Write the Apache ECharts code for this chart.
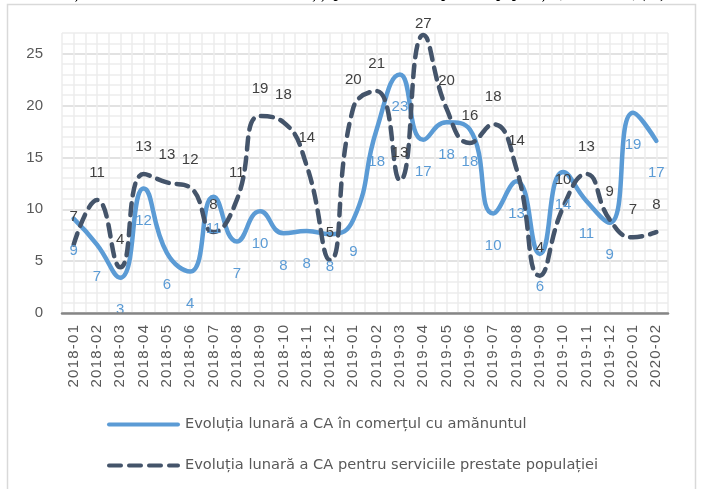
<!DOCTYPE html>
<html>
<head>
<meta charset="utf-8">
<script src="https://cdn.jsdelivr.net/npm/echarts@6/dist/echarts.min.js"></script>
<style>
  html, body { margin: 0; padding: 0; background: #fff; }
  #chart { width: 701px; height: 489px; }
</style>
</head>
<body>
<div id="chart"></div>
<script>
// categories (months)
const months = ['2018-01', '2018-02', '2018-03', '2018-04', '2018-05', '2018-06', '2018-07', '2018-08',
  '2018-09', '2018-10', '2018-11', '2018-12', '2019-01', '2019-02', '2019-03', '2019-04', '2019-05',
  '2019-06', '2019-07', '2019-08', '2019-09', '2019-10', '2019-11', '2019-12', '2020-01', '2020-02'];

// retail trade turnover, monthly change
const retail = [9.1, 6.6, 3.4, 12.0, 5.8, 4.0, 11.2, 6.9, 9.8, 7.7, 7.9, 7.6, 9.0,
  17.7, 23.0, 16.7, 18.4, 17.7, 9.6, 12.7, 5.7, 13.6, 10.8, 8.7, 19.3, 16.6];

// services for the population, monthly change
const services = [6.6, 10.9, 4.4, 13.4, 12.6, 12.1, 7.8, 10.9, 19.0, 18.4, 14.2, 5.1, 19.8,
  21.4, 12.8, 26.8, 19.7, 16.4, 18.2, 13.9, 3.6, 10.2, 13.4, 9.0, 7.3, 7.8];

const retailName = 'Evoluția lunară a CA în comerțul cu amănuntul';
const servicesName = 'Evoluția lunară a CA pentru serviciile prestate populației';
const titleText = 'Evoluția lunară a cifrei de afaceri în comerț și pentru serviciile prestate populației, 2018-2020, (%)';

const chart = echarts.init(document.getElementById('chart'));

// the 27 label sits against the top of the plot, keep it close
const servicesData = services.map(function (v) {
  return v > 26 ? { value: v, label: { distance: 3 } } : v;
});

const hidden = 'rgba(0,0,0,0)';

const option = {
  animation: false,
  textStyle: { fontFamily: 'Liberation Sans' },
  title: {
    text: titleText,
    left: 'center',
    top: -18,
    textStyle: { fontFamily: 'Liberation Serif', fontWeight: 'bold', fontSize: 15, color: '#000' }
  },
  graphic: [{
    type: 'rect',
    silent: true,
    z: -10,
    shape: { x: 7.5, y: 4.5, width: 688, height: 500 },
    style: { fill: 'none', stroke: '#d9d9d9', lineWidth: 1.5 }
  }],
  legend: {
    orient: 'vertical',
    left: 102,
    top: 412,
    itemWidth: 69,
    itemHeight: 14,
    itemGap: 26,
    lineStyle: { width: 4 },
    itemStyle: { color: hidden, borderWidth: 0 },
    textStyle: { fontFamily: 'DejaVu Sans', fontSize: 14.6, color: '#595959', padding: [0, 0, 0, 2] },
    data: [retailName, servicesName]
  },
  grid: { left: 62, right: 33, top: 33, bottom: 176 },
  xAxis: [
    {
      type: 'category',
      data: months,
      boundaryGap: true,
      z: 5,
      axisLine: { lineStyle: { color: '#868686', width: 2.5 } },
      axisTick: { show: false },
      axisLabel: {
        rotate: 90,
        interval: 0,
        margin: 12,
        fontSize: 15,
        color: '#595959',
        formatter: function (v) { return v.split('').join('\u200a'); }
      },
      splitLine: { show: false }
    },
    {
      // half-category vertical grid
      type: 'value',
      min: 0,
      max: months.length * 2,
      interval: 1,
      position: 'top',
      axisLine: { show: false },
      axisTick: { show: false },
      axisLabel: { show: false },
      splitLine: { show: true, lineStyle: { color: '#ededed', width: 1.5 } }
    }
  ],
  yAxis: {
    type: 'value',
    min: 0,
    max: 27,
    interval: 1,
    axisLine: { show: false },
    axisTick: { show: false },
    axisLabel: {
      margin: 19,
      fontSize: 15,
      color: '#595959',
      formatter: function (v) { return v % 5 === 0 ? v : ''; }
    },
    splitLine: {
      lineStyle: { color: ['#d9d9d9', '#ededed', '#ededed', '#ededed', '#ededed'], width: 1.5 }
    }
  },
  series: [
    {
      name: retailName,
      type: 'line',
      xAxisIndex: 0,
      data: retail,
      smooth: 0.5,
      symbol: 'circle',
      symbolSize: 2,
      showSymbol: true,
      itemStyle: { color: hidden, borderWidth: 0 },
      lineStyle: { color: '#5b9bd5', width: 4.5, cap: 'round' },
      label: {
        show: true,
        position: 'bottom',
        distance: 24,
        fontSize: 15,
        color: '#5b9bd5',
        formatter: function (p) { return Math.round(p.value); }
      },
      labelLayout: { hideOverlap: false }
    },
    {
      name: servicesName,
      type: 'line',
      xAxisIndex: 0,
      data: servicesData,
      smooth: 0.5,
      symbol: 'circle',
      symbolSize: 2,
      showSymbol: true,
      itemStyle: { color: hidden, borderWidth: 0 },
      lineStyle: { color: '#44546a', width: 4.5, type: [12, 8], cap: 'round' },
      label: {
        show: true,
        position: 'top',
        distance: 19,
        fontSize: 15,
        color: '#404040',
        formatter: function (p) { return Math.round(p.value); }
      },
      labelLayout: { hideOverlap: false }
    }
  ]
};

chart.setOption(option);
</script>
</body>
</html>
